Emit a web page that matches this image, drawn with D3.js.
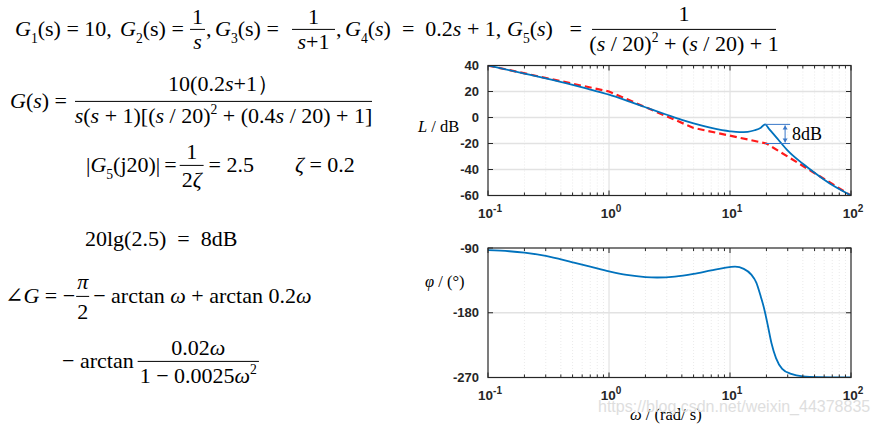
<!DOCTYPE html>
<html><head><meta charset="utf-8">
<script src="https://cdn.jsdelivr.net/npm/d3@7"></script>
<style>html,body{margin:0;padding:0;background:#fff;} svg text{white-space:pre;}</style>
</head><body>
<script>
// ---- data ----
const magOmega = [0.1,0.2,0.3,0.5,0.7,1,1.5,2,3,4,5,7,10,12,14,16,18,19.5,21,23,25,30,40,50,70,100];
const magDb    = [40,33.8,30.1,25.1,21.5,17.6,12.0,7.9,2.1,-1.9,-4.6,-8.0,-10.6,-11.2,-11.0,-9.8,-7.8,-5.3,-8.8,-13.0,-16.9,-25.5,-35.6,-42.5,-52.0,-60];
const asymOmega = [0.1,1,5,20,100];
const asymDb    = [40,20,-8,-20,-60];
const phOmega = [0.1,0.15,0.2,0.3,0.5,0.7,1,1.4,2,2.5,3.5,5,7,9,11,13,15,16.5,18,19,19.5,20.5,22,24,27,32,40,55,100];
const phDeg   = [-93,-94.5,-96.5,-101,-110,-116,-122.5,-127.5,-130.5,-131,-129.8,-126,-121,-117.5,-116,-119,-127,-138,-158,-172,-180,-197,-222,-243,-258,-265,-268.5,-269.5,-270];
const magTicks = [40,20,0,-20,-40,-60];
const phTicks  = [-90,-180,-270];
const decades  = [0.1,1,10,100];
const decadeExp = ["-1","0","1","2"];
const peakDb = -5.3, peakOmega = 19.5, baseDb = -20, peakLabel = "8dB";

const W=881,H=427;
const svg=d3.select('body').append('svg').attr('width',W).attr('height',H);
const SERIF="'Liberation Serif','Tinos','Times New Roman','DejaVu Serif',serif";
const SANS="'Liberation Sans',Arial,'DejaVu Sans',sans-serif";
const FS=22;

// ---- math text helpers ----
function mtext(x,y,toks,size=FS,anchor='start'){
  const t=svg.append('text').style('font-family',SERIF).attr('x',x).attr('y',y)
    .attr('font-size',size).attr('text-anchor',anchor).attr('fill','#000');
  let shift=0;
  toks.forEach(tok=>{
    const [s,st='']= typeof tok==='string'?[tok,'']:tok;
    const target= st.includes('b')? size*0.3 : st.includes('p')? -size*0.42 : 0;
    const ts=t.append('tspan').text(s).attr('dy',target-shift);
    shift=target;
    if(st.includes('i')) ts.attr('font-style','italic');
    if(st.includes('b')||st.includes('p')) ts.attr('font-size',size*0.62);
  });
  return t;
}
// flow layout of a formula row: items {t:toks,g:gap} | {f:[num,den],w,g} | {x:abs}
function row(x,y,items,size=FS){
  let cx=x;
  items.forEach(it=>{
    if(it.x!==undefined){cx=it.x;return;}
    if(it.t){
      const n=mtext(cx,y,it.t,size).node();
      cx+=n.getComputedTextLength()+(it.g||0);
    } else if(it.f){
      const bar=y-size*0.3;
      const nm=mtext(0,bar-(it.nd||5),it.f[0],size,'middle');
      const dn=mtext(0,bar+(it.dd||size*0.9),it.f[1],size,'middle');
      const w=it.w||Math.max(nm.node().getComputedTextLength(),dn.node().getComputedTextLength())+4;
      const c=cx+w/2;
      nm.attr('x',c); dn.attr('x',c);
      svg.append('line').attr('x1',cx).attr('x2',cx+w).attr('y1',bar).attr('y2',bar).attr('stroke','#000').attr('stroke-width',1);
      cx+=w+(it.g||0);
    }
  });
}

// line 1
row(15,36,[
  {t:[['G','i'],['1','b'],'(s) = 10,']},
  {x:120},{t:[['G','i'],['2','b'],'(s) =']},{x:190},{f:[['1'],[['s','i']]],g:1},{t:[',']},
  {x:215},{t:[['G','i'],['3','b'],'(s) =']},{x:292},{f:[['1'],[['s','i'],'+1']],w:43,g:1},{t:[',']},
  {x:345},{t:[['G','i'],['4','b'],'(',['s','i'],')\u2002=\u20020.2',['s','i'],' + 1,']},
  {x:507},{t:[['G','i'],['5','b'],'(',['s','i'],')\u2002 =']},
  {x:592},{f:[['1'],['(',['s','i'],' / 20)',['2','p'],' + (',['s','i'],' / 20) + 1']],w:184,nd:8,dd:22}
]);
// line 2
row(10,108,[
  {t:[['G','i'],'(',['s','i'],') =']},
  {x:75},{f:[['10(0.2',['s','i'],'+1）'],[['s','i'],'(',['s','i'],' + 1)[(',['s','i'],' / 20)',['2','p'],' + (0.4',['s','i'],' / 20) + 1]']],w:297,nd:10,dd:22}
]);
// line 3
row(86,172,[
  {t:['|',['G','i'],['5','b'],'(j20)|'],g:4},{t:['='],g:3},
  {f:[['1'],['2',['ζ','i']]],nd:6,dd:22,g:5},{t:['= 2.5']},
  {x:295},{t:[['ζ','i'],' = 0.2']}
]);
// line 4
row(85,246,[{t:['20lg(2.5)\u2002=\u20028dB']}]);
// line 5
row(5,303,[
  {t:['∠',['G','i'],' = −'],g:1},{f:[[['π','i']],['2']],w:13,nd:7,dd:23,g:4},
  {t:['− arctan ',['ω','i'],' + arctan 0.2',['ω','i']]}
]);
// line 6
row(62,368,[{t:['− arctan'],g:4},{f:[['0.02',['ω','i']],['1 − 0.0025',['ω','i'],['2','p']]],nd:6,dd:22}]);

// ---- plots ----
const X=d3.scaleLog().domain([0.1,100]).range([488,851]);
const magY=d3.scaleLinear().domain([-60,40]).range([195.5,65.5]);
const phY=d3.scaleLinear().domain([-270,-90]).range([377.5,248]);
const minors=X.ticks().filter(v=>!decades.some(d=>Math.abs(d-v)<1e-9));
const AX='#262626';

function panel(Y,hgrid){
  const [y0,y1]=Y.range();
  const g=svg.append('g');
  g.selectAll('.mg').data(minors).join('line').attr('x1',d=>X(d)).attr('x2',d=>X(d))
    .attr('y1',y1).attr('y2',y0).attr('stroke','#e4e4e4').attr('stroke-width',0.8).attr('stroke-dasharray','1,2');
  g.selectAll('.Mg').data(decades.slice(1,-1)).join('line').attr('x1',d=>X(d)).attr('x2',d=>X(d))
    .attr('y1',y1).attr('y2',y0).attr('stroke','#dcdcdc').attr('stroke-width',1);
  g.selectAll('.hg').data(hgrid).join('line').attr('x1',X.range()[0]).attr('x2',X.range()[1])
    .attr('y1',d=>Y(d)).attr('y2',d=>Y(d)).attr('stroke','#e2e2e2').attr('stroke-width',1.6);
}
function frame(Y,ticks){
  const [y0,y1]=Y.range();
  const [x0,x1]=X.range();
  const g=svg.append('g');
  g.selectAll('.t1').data(minors).join('line').attr('x1',d=>X(d)).attr('x2',d=>X(d)).attr('y1',y0).attr('y2',y0-3).attr('stroke',AX);
  g.selectAll('.t2').data(minors).join('line').attr('x1',d=>X(d)).attr('x2',d=>X(d)).attr('y1',y1).attr('y2',y1+3).attr('stroke',AX);
  g.selectAll('.t3').data(decades).join('line').attr('x1',d=>X(d)).attr('x2',d=>X(d)).attr('y1',y0).attr('y2',y0-5).attr('stroke',AX);
  g.selectAll('.t4').data(decades).join('line').attr('x1',d=>X(d)).attr('x2',d=>X(d)).attr('y1',y1).attr('y2',y1+5).attr('stroke',AX);
  g.selectAll('.t5').data(ticks).join('line').attr('x1',x0).attr('x2',x0+5).attr('y1',d=>Y(d)).attr('y2',d=>Y(d)).attr('stroke',AX);
  g.selectAll('.t6').data(ticks).join('line').attr('x1',x1).attr('x2',x1-5).attr('y1',d=>Y(d)).attr('y2',d=>Y(d)).attr('stroke',AX);
  g.append('rect').attr('x',x0).attr('y',y1).attr('width',x1-x0).attr('height',y0-y1)
    .attr('fill','none').attr('stroke',AX).attr('stroke-width',1.2);
  g.selectAll('.yl').data(ticks).join('text').style('font-family',SANS).attr('x',x0-9).attr('y',d=>Y(d)+4.5)
    .attr('text-anchor','end').attr('font-weight','bold').attr('font-size',13)
    .attr('fill',AX).text(d=>d);
  decades.forEach((d,i)=>{
    const t=g.append('text').style('font-family',SANS).attr('x',X(d)+2).attr('y',y0+22).attr('text-anchor','middle')
      .attr('font-weight','bold').attr('font-size',13.5).attr('fill',AX);
    t.append('tspan').text('10');
    t.append('tspan').text(decadeExp[i]).attr('dy',-6).attr('font-size',10);
  });
}

// magnitude panel
panel(magY,[20,0,-20,-40]);
svg.append('clipPath').attr('id','c1').append('rect').attr('x',488).attr('y',65.5).attr('width',363).attr('height',130);
svg.append('path').datum(asymOmega.map((w,i)=>[w,asymDb[i]]))
  .attr('d',d3.line().x(d=>X(d[0])).y(d=>magY(d[1])))
  .attr('fill','none').attr('stroke','#ff1a1a').attr('stroke-width',2.2).attr('stroke-dasharray','7,4')
  .attr('clip-path','url(#c1)');
svg.append('path').datum(magOmega.map((w,i)=>[w,magDb[i]]))
  .attr('d',d3.line().curve(d3.curveMonotoneX).x(d=>X(d[0])).y(d=>magY(d[1])))
  .attr('fill','none').attr('stroke','#0072BD').attr('stroke-width',1.8).attr('clip-path','url(#c1)');
frame(magY,magTicks);

// 8dB annotation
const ANN='#3a78c9';
const ax0=X(peakOmega), axA=X(peakOmega)+20, axE=X(peakOmega)+25;
svg.append('line').attr('x1',ax0).attr('x2',axE).attr('y1',magY(peakDb)).attr('y2',magY(peakDb)).attr('stroke',ANN).attr('stroke-width',1);
svg.append('line').attr('x1',ax0).attr('x2',axE).attr('y1',magY(baseDb)).attr('y2',magY(baseDb)).attr('stroke',ANN).attr('stroke-width',1);
svg.append('line').attr('x1',axA).attr('x2',axA).attr('y1',magY(peakDb)+1).attr('y2',magY(baseDb)-1).attr('stroke',ANN).attr('stroke-width',1);
svg.append('path').attr('d',`M${axA-2.5},${magY(peakDb)+5}L${axA},${magY(peakDb)+1}L${axA+2.5},${magY(peakDb)+5}Z`).attr('fill',ANN);
svg.append('path').attr('d',`M${axA-2.5},${magY(baseDb)-5}L${axA},${magY(baseDb)-1}L${axA+2.5},${magY(baseDb)-5}Z`).attr('fill',ANN);
svg.append('text').style('font-family',SERIF).attr('x',axA+7).attr('y',(magY(peakDb)+magY(baseDb))/2+6).attr('font-size',18).text(peakLabel);

// phase panel
panel(phY,[-180]);
svg.append('clipPath').attr('id','c2').append('rect').attr('x',488).attr('y',248).attr('width',363).attr('height',129.5);
svg.append('path').datum(phOmega.map((w,i)=>[w,phDeg[i]]))
  .attr('d',d3.line().curve(d3.curveMonotoneX).x(d=>X(d[0])).y(d=>phY(d[1])))
  .attr('fill','none').attr('stroke','#0072BD').attr('stroke-width',1.8).attr('clip-path','url(#c2)');
frame(phY,phTicks);

// axis labels
mtext(418,132,[['L','i'],' / dB'],16.5);
mtext(425,287,[['φ','i'],' / (°)'],16.5);
mtext(630,420,[['ω','i'],' / (rad/ s)'],16.5);

// watermark
svg.append('text').style('font-family',SANS).attr('x',598).attr('y',412).attr('font-size',16)
  .attr('fill','#dedede').text('https://blog.csdn.net/weixin_44378835');
</script>
</body></html>
